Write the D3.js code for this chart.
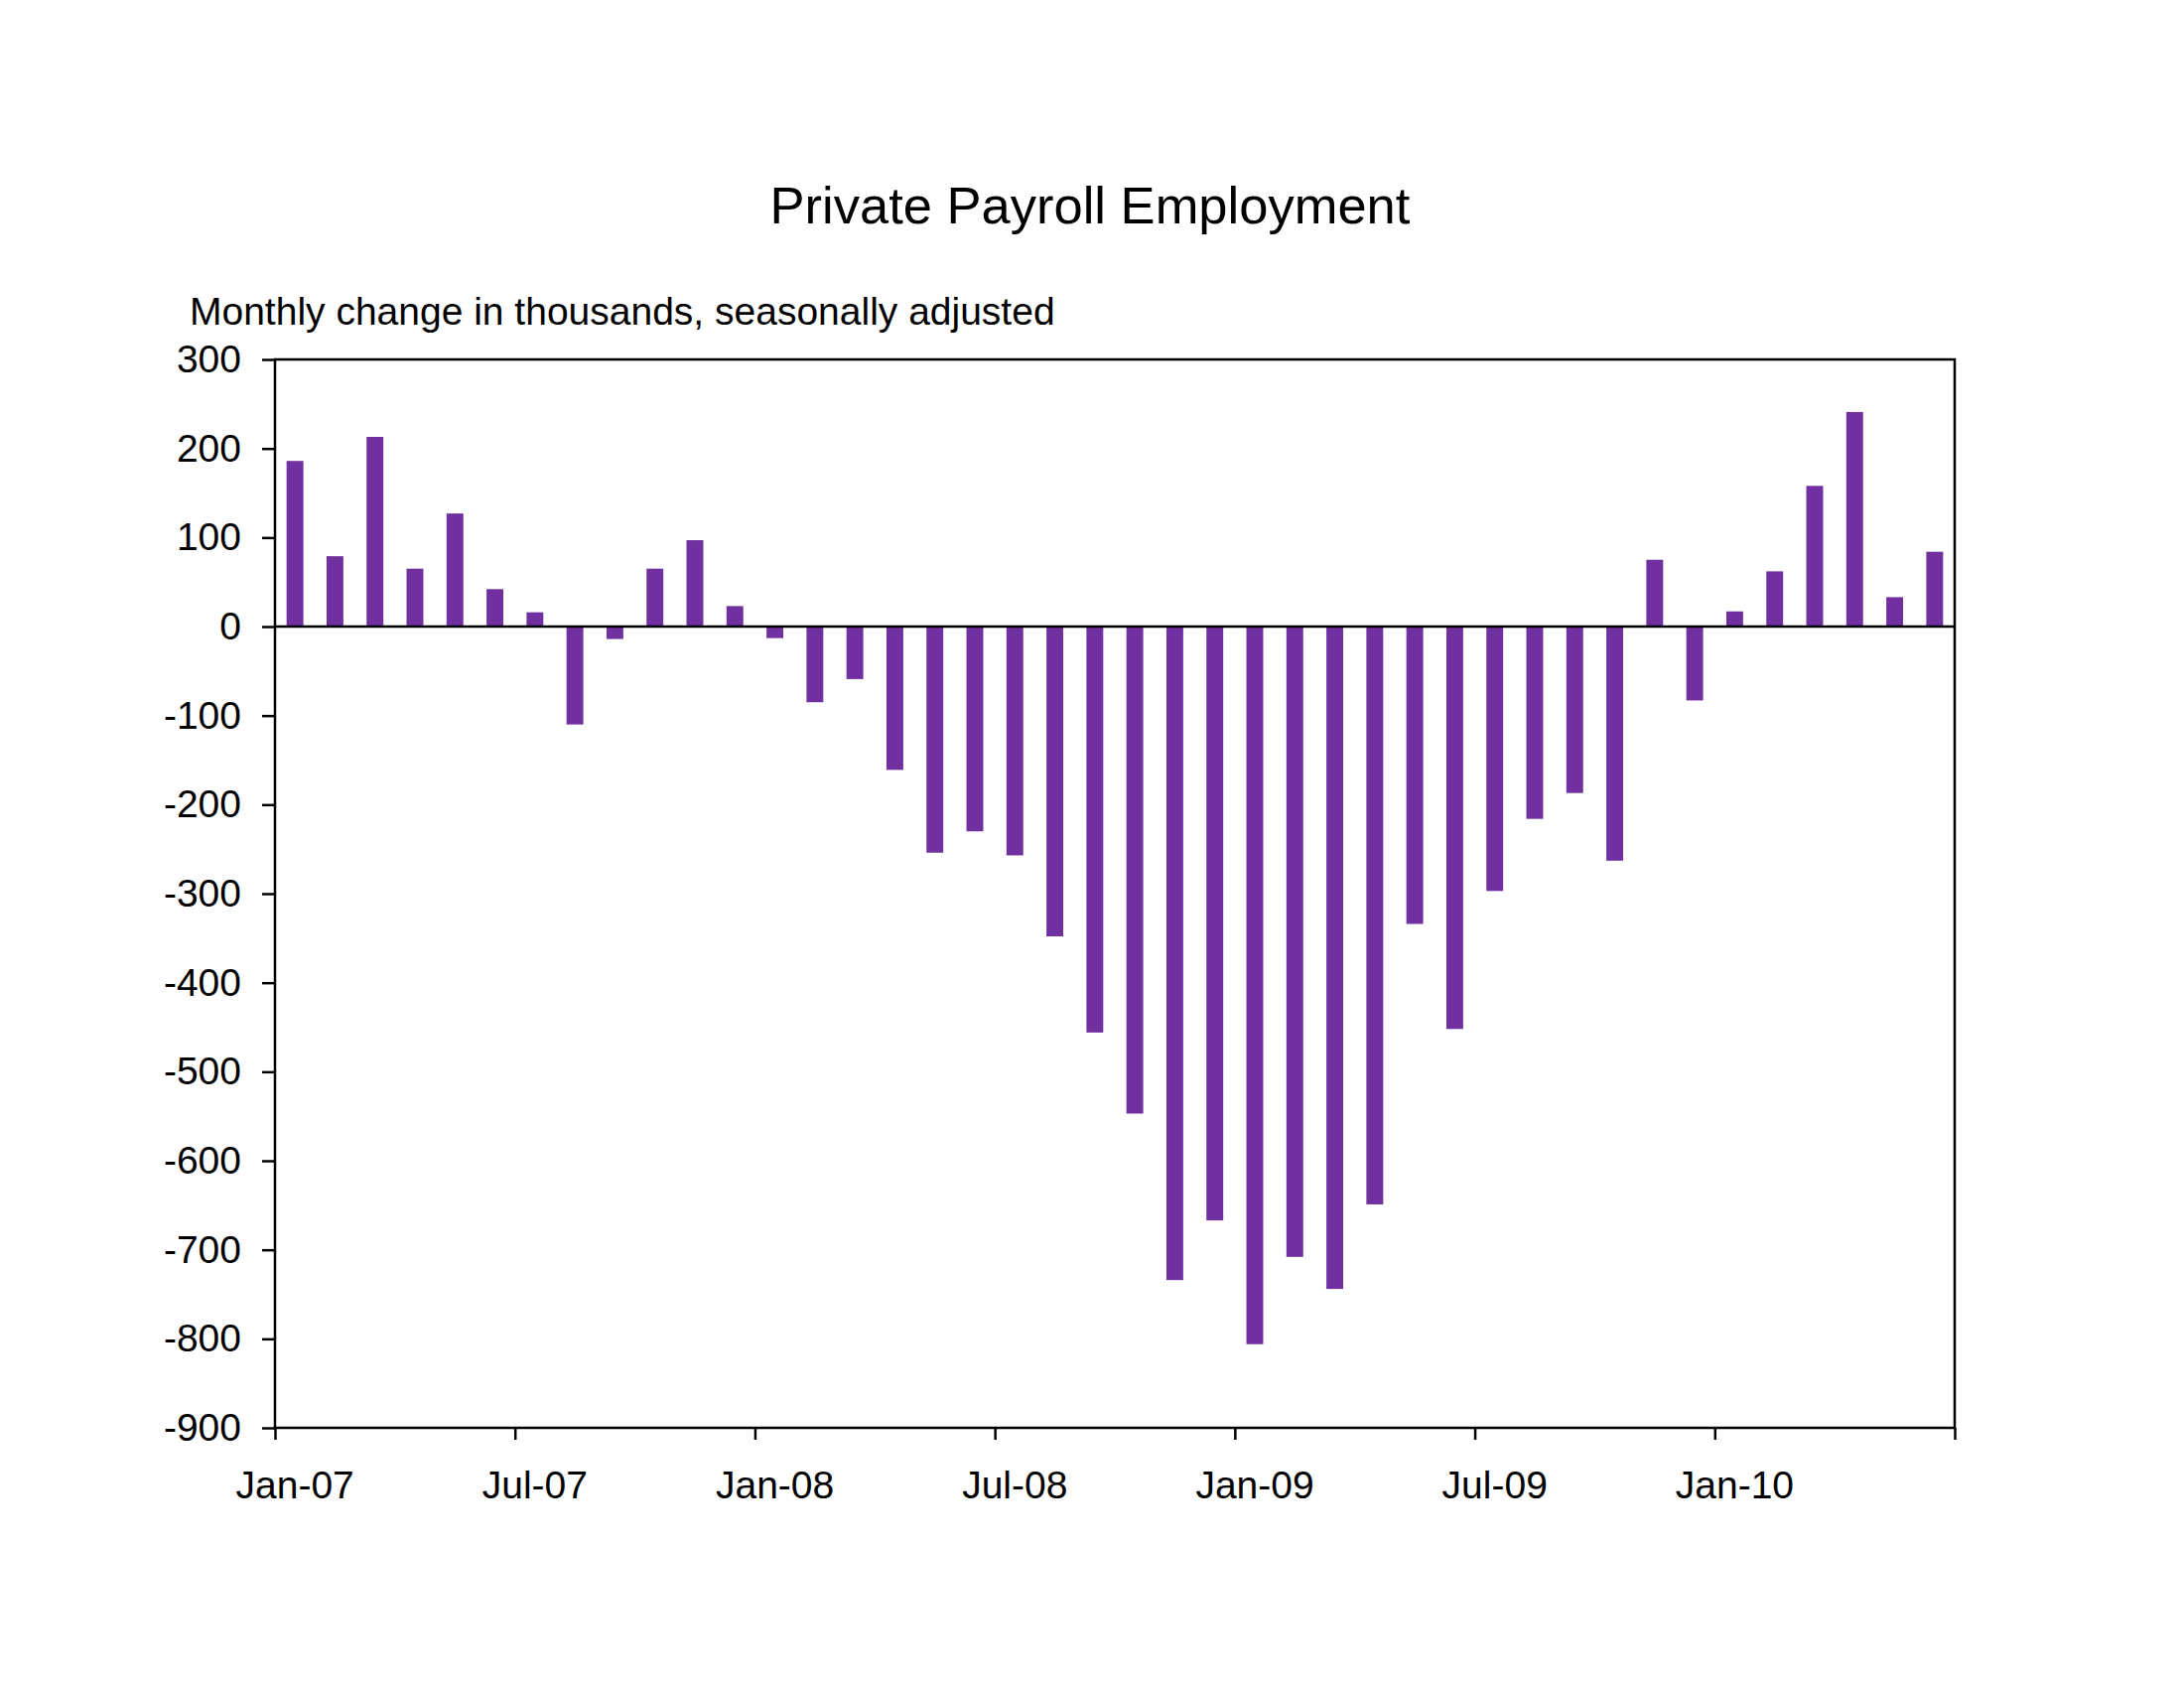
<!DOCTYPE html>
<html>
<head>
<meta charset="utf-8">
<script src="https://cdn.jsdelivr.net/npm/d3@7"></script>
<style>
  html, body { margin: 0; padding: 0; background: #ffffff; }
  svg { display: block; }
  text { font-family: "Liberation Sans", Arial, sans-serif; fill: #000; }
</style>
</head>
<body>
<svg id="chart" width="2200" height="1700"></svg>
<script>
const months = [
  "Jan-07","Feb-07","Mar-07","Apr-07","May-07","Jun-07","Jul-07","Aug-07","Sep-07","Oct-07","Nov-07","Dec-07",
  "Jan-08","Feb-08","Mar-08","Apr-08","May-08","Jun-08","Jul-08","Aug-08","Sep-08","Oct-08","Nov-08","Dec-08",
  "Jan-09","Feb-09","Mar-09","Apr-09","May-09","Jun-09","Jul-09","Aug-09","Sep-09","Oct-09","Nov-09","Dec-09",
  "Jan-10","Feb-10","Mar-10","Apr-10","May-10","Jun-10"
];
const values = [
  186, 79, 213, 65, 127, 42, 16, -110, -14, 65, 97, 23,
  -13, -85, -59, -161, -254, -230, -257, -348, -456, -547, -734, -667,
  -806, -708, -744, -649, -334, -452, -297, -216, -187, -263, 75, -83,
  17, 62, 158, 241, 33, 84
];
const xLabels = ["Jan-07","Jul-07","Jan-08","Jul-08","Jan-09","Jul-09","Jan-10"];
const yTicks = [300, 200, 100, 0, -100, -200, -300, -400, -500, -600, -700, -800, -900];
const title = "Private Payroll Employment";
const subtitle = "Monthly change in thousands, seasonally adjusted";

const svg = d3.select("#chart");
const L = 277, R = 1969, T = 362, B = 1438;
const barColor = "#7030A0";

const x = d3.scaleBand().domain(months).range([L, R]).paddingInner(0.58).paddingOuter(0.29);
const xb = d3.scaleLinear().domain([0, months.length]).range([L, R]);
const y = d3.scaleLinear().domain([-900, 300]).range([B, T]);

// bars
svg.append("g").selectAll("rect").data(values).join("rect")
  .attr("x", (d, i) => x(months[i]))
  .attr("width", x.bandwidth())
  .attr("y", d => y(Math.max(0, d)))
  .attr("height", d => Math.abs(y(d) - y(0)))
  .attr("fill", barColor);

// zero line
svg.append("line")
  .attr("x1", L).attr("x2", R).attr("y1", y(0)).attr("y2", y(0))
  .attr("stroke", "#000").attr("stroke-width", 2.5);

// frame
svg.append("rect")
  .attr("x", L).attr("y", T).attr("width", R - L).attr("height", B - T)
  .attr("fill", "none").attr("stroke", "#000").attr("stroke-width", 2.5);

// y axis
const yAxis = svg.append("g").attr("transform", `translate(${L},0)`)
  .call(d3.axisLeft(y).tickValues(yTicks).tickSize(13).tickPadding(21).tickFormat(d => String(d)));
yAxis.select(".domain").remove();
yAxis.selectAll("line").attr("stroke", "#000").attr("stroke-width", 2.5);
yAxis.selectAll("text").style("font-size", "39px").attr("font-family", null);

// x axis tick marks at boundaries every 6 months
const xAxis = svg.append("g").attr("transform", `translate(0,${B})`)
  .call(d3.axisBottom(xb).tickValues(d3.range(0, months.length + 1, 6)).tickSize(12).tickFormat(""));
xAxis.select(".domain").remove();
xAxis.selectAll("line").attr("stroke", "#000").attr("stroke-width", 2.5);

// x labels centered on bars
svg.append("g").selectAll("text").data(xLabels).join("text")
  .attr("x", d => x(d) + x.bandwidth() / 2)
  .attr("y", 1509)
  .attr("text-anchor", "middle")
  .style("font-size", "39px")
  .text(d => d);

// title & subtitle
svg.append("text").attr("x", 1098).attr("y", 225).attr("text-anchor", "middle")
  .style("font-size", "52.5px").text(title);
svg.append("text").attr("x", 191).attr("y", 327)
  .style("font-size", "39px").text(subtitle);
</script>
</body>
</html>
